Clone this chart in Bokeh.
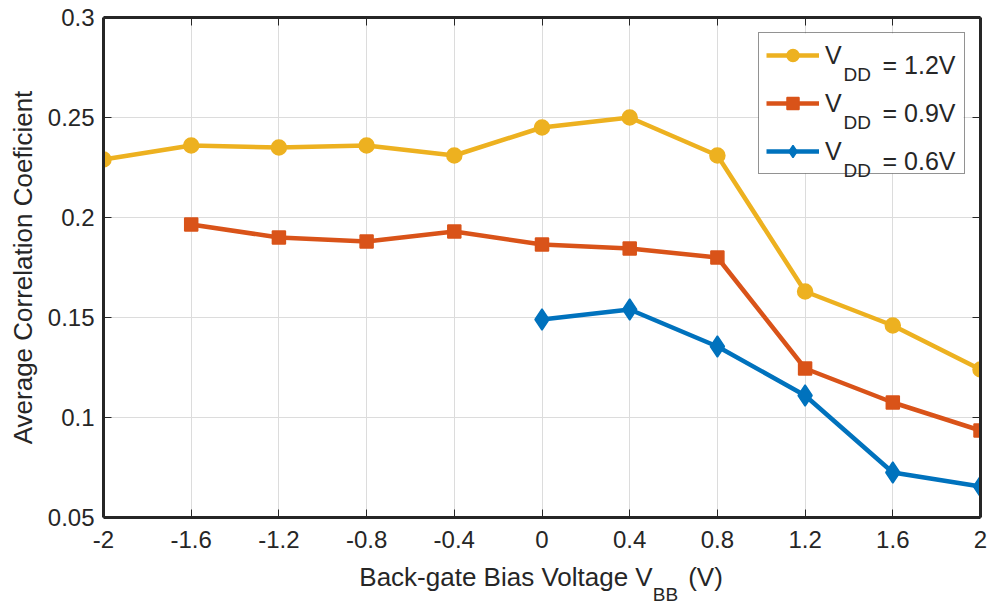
from bokeh.plotting import figure
from bokeh.models import (FixedTicker, LinearAxis, Legend, LegendItem, Label,
                          Range1d, BoxAnnotation)
from bokeh.embed import file_html
from bokeh.resources import INLINE

# Back-gate bias sweep (V) and average correlation coefficient per supply voltage
vbb_12 = [-2.0, -1.6, -1.2, -0.8, -0.4, 0.0, 0.4, 0.8, 1.2, 1.6, 2.0]
corr_12 = [0.229, 0.236, 0.235, 0.236, 0.231, 0.245, 0.250, 0.231, 0.163, 0.146, 0.124]

vbb_09 = [-1.6, -1.2, -0.8, -0.4, 0.0, 0.4, 0.8, 1.2, 1.6, 2.0]
corr_09 = [0.1965, 0.190, 0.188, 0.193, 0.1865, 0.1845, 0.180, 0.1245, 0.1075, 0.0935]

vbb_06 = [0.0, 0.4, 0.8, 1.2, 1.6, 2.0]
corr_06 = [0.149, 0.154, 0.1355, 0.111, 0.0725, 0.0655]

x_ticks = [-2.0, -1.6, -1.2, -0.8, -0.4, 0.0, 0.4, 0.8, 1.2, 1.6, 2.0]
x_tick_labels = ["-2", "-1.6", "-1.2", "-0.8", "-0.4", "0", "0.4", "0.8", "1.2", "1.6", "2"]
y_ticks = [0.05, 0.1, 0.15, 0.2, 0.25, 0.3]
y_tick_labels = ["0.05", "0.1", "0.15", "0.2", "0.25", "0.3"]

series_names = ["= 1.2V", "= 0.9V", "= 0.6V"]

FONT = "Liberation Sans"
INK = "#262626"
COLORS = ["#EDB120", "#D95319", "#0072BD"]

X0, X1 = -2.0, 2.0
Y0, Y1 = 0.05, 0.3

# frame geometry (page pixels)
FL, FT, FW, FH = 103, 17, 877, 500
FB = FT + FH


def fx(px):
    """page x pixel -> frame-relative screen x"""
    return px - FL


def fy(py):
    """page y pixel -> frame-relative screen y (measured upward)"""
    return FB - py


def px_to_x(px):
    """page x pixel -> x data value (used to place title pieces)"""
    return X0 + (px - FL) * (X1 - X0) / FW


p = figure(
    frame_width=FW, frame_height=FH,
    min_border_left=FL, min_border_top=FT,
    min_border_right=993 - FL - FW, min_border_bottom=604 - FB,
    x_range=Range1d(X0, X1), y_range=Range1d(Y0, Y1),
    output_backend="svg", toolbar_location=None,
    background_fill_color="white", border_fill_color="white",
)
p.outline_line_color = None

# grid
for g in (p.xgrid, p.ygrid):
    g.grid_line_color = "#dcdcdc"
    g.grid_line_width = 1
p.xgrid.ticker = FixedTicker(ticks=x_ticks)
p.ygrid.ticker = FixedTicker(ticks=y_ticks)


def style_axis(ax, ticks, labels, show_labels):
    ax.ticker = FixedTicker(ticks=ticks)
    ax.major_label_overrides = dict(zip(ticks, labels))
    ax.axis_line_color = INK
    ax.axis_line_width = 3
    ax.major_tick_line_color = INK
    ax.major_tick_line_width = 1
    ax.major_tick_in = 8
    ax.major_tick_out = 0
    ax.minor_tick_line_color = None
    ax.major_label_text_font = FONT
    if show_labels:
        ax.major_label_text_color = INK
        ax.major_label_text_font_size = "24px"
    else:
        ax.major_label_text_color = None
        ax.major_label_text_font_size = "1px"
        ax.major_label_standoff = 0


xa = p.xaxis[0]
ya = p.yaxis[0]
style_axis(xa, x_ticks, x_tick_labels, True)
style_axis(ya, y_ticks, y_tick_labels, True)
xa.major_label_standoff = 13
ya.major_label_standoff = 9

ya.axis_label = "Average Correlation Coeficient"
ya.axis_label_text_font = FONT
ya.axis_label_text_font_size = "26px"
ya.axis_label_text_font_style = "normal"
ya.axis_label_text_color = INK
ya.axis_label_standoff = 7

top_ax = LinearAxis()
right_ax = LinearAxis()
style_axis(top_ax, x_ticks, x_tick_labels, False)
style_axis(right_ax, y_ticks, y_tick_labels, False)
p.add_layout(top_ax, "above")
p.add_layout(right_ax, "right")


# x axis title, split so that the subscript can be set smaller and lower
def title_axis(pieces, size, standoff):
    ticks = [px_to_x(c) for c, _ in pieces]
    ax = LinearAxis(ticker=FixedTicker(ticks=ticks),
                    major_label_overrides={t: s for t, (_, s) in zip(ticks, pieces)})
    ax.axis_line_color = None
    ax.major_tick_line_color = None
    ax.minor_tick_line_color = None
    ax.major_tick_in = 0
    ax.major_tick_out = 0
    ax.major_label_text_font = FONT
    ax.major_label_text_font_size = size
    ax.major_label_text_color = INK
    ax.major_label_standoff = standoff
    p.add_layout(ax, "below")


title_axis([(505.5, "Back-gate Bias Voltage V"), (705, "(V)")], "26px", 11)
title_axis([(665, "BB")], "19px", -11)

# data series
items = []
series = [
    (vbb_12, corr_12, "circle", 15),
    (vbb_09, corr_09, "square", 13),
    (vbb_06, corr_06, "diamond", 21),
]
for (xs, ys, marker, size), color in zip(series, COLORS):
    ln = p.line(xs, ys, line_color=color, line_width=4.5, line_join="round")
    sc = p.scatter(xs, ys, marker=marker, size=size, fill_color=color,
                   line_color=color, line_width=1.5)
    items.append(LegendItem(label="V", renderers=[ln, sc]))

# legend backdrop, then its extra texts, then the (transparent) legend itself
p.add_layout(BoxAnnotation(left=fx(758), right=fx(963), bottom=fy(173), top=fy(33),
                           left_units="screen", right_units="screen",
                           bottom_units="screen", top_units="screen",
                           fill_color="white", fill_alpha=1.0, line_color=None))

row_base = [64, 112, 160]
for base, name in zip(row_base, series_names):
    p.add_layout(Label(x=fx(843), y=fy(base + 10), x_units="screen", y_units="screen",
                       text="DD", text_font=FONT, text_font_size="19px",
                       text_color=INK, text_baseline="alphabetic"))
    p.add_layout(Label(x=fx(882), y=fy(base), x_units="screen", y_units="screen",
                       text=name, text_font=FONT, text_font_size="25px",
                       text_color=INK, text_baseline="alphabetic"))

legend = Legend(
    items=items,
    location=(fx(758), fy(174)),
    padding=7, spacing=18,
    glyph_width=53, glyph_height=30, label_height=30,
    label_width=132, label_standoff=6,
    label_text_font=FONT, label_text_font_size="25px", label_text_color=INK,
    border_line_color=INK, border_line_width=1,
    background_fill_alpha=0,
)
p.add_layout(legend, "center")

open("out.html", "w").write(file_html(p, INLINE))
